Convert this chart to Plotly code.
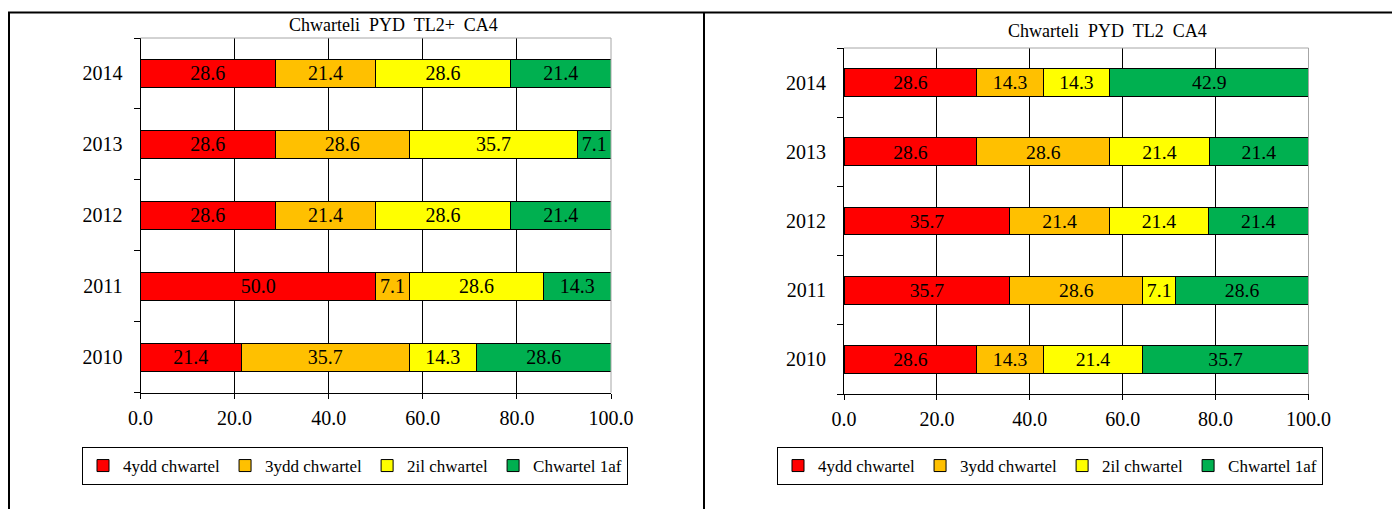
import plotly.graph_objects as go

# Category axis (bottom to top) and series definitions
years = ["2010", "2011", "2012", "2013", "2014"]
series_names = ["4ydd chwartel", "3ydd chwartel", "2il chwartel", "Chwartel 1af"]
series_colors = ["#FF0000", "#FFC000", "#FFFF00", "#00B050"]

# Chwarteli PYD TL2+ CA4 (percent per year, 2010..2014)
tl2plus_q4 = [21.4, 50.0, 28.6, 28.6, 28.6]
tl2plus_q3 = [35.7, 7.1, 21.4, 28.6, 21.4]
tl2plus_q2 = [14.3, 28.6, 28.6, 35.7, 28.6]
tl2plus_q1 = [28.6, 14.3, 21.4, 7.1, 21.4]

# Chwarteli PYD TL2 CA4 (percent per year, 2010..2014)
tl2_q4 = [28.6, 35.7, 35.7, 28.6, 28.6]
tl2_q3 = [14.3, 28.6, 21.4, 28.6, 14.3]
tl2_q2 = [21.4, 7.1, 21.4, 21.4, 14.3]
tl2_q1 = [35.7, 28.6, 21.4, 21.4, 42.9]

x_ticks = [0, 20, 40, 60, 80, 100]

W, H = 1392, 509
FONT = "Liberation Serif"

fig = go.Figure()

panels = [
    ("x", "y", "legend", [tl2plus_q4, tl2plus_q3, tl2plus_q2, tl2plus_q1]),
    ("x2", "y2", "legend2", [tl2_q4, tl2_q3, tl2_q2, tl2_q1]),
]
for xa, ya, lg, series in panels:
    for name, color, vals in zip(series_names, series_colors, series):
        fig.add_trace(go.Bar(
            x=vals, y=years, orientation="h", name=name,
            xaxis=xa, yaxis=ya, legend=lg,
            width=0.4,
            marker=dict(color=color, line=dict(color="black", width=1)),
            text=vals, texttemplate="%{x:.1f}",
            textposition="inside", insidetextanchor="middle", textangle=0,
            insidetextfont=dict(family=FONT, size=20, color="black"),
            hoverinfo="skip",
        ))


def px_x(v):
    return v / W


def px_y(v):
    return 1 - v / H


axis_font = dict(family=FONT, size=20, color="black")

xcommon = dict(
    range=[0, 100], tickvals=x_ticks, tickformat=".1f",
    showgrid=True, gridcolor="black", gridwidth=1,
    ticks="outside", ticklen=5, tickcolor="black",
    showline=True, linecolor="black", linewidth=1,
    zeroline=False, tickfont=axis_font, ticklabelstandoff=2,
    automargin=False, fixedrange=True,
)
ycommon = dict(
    type="category", categoryorder="array", categoryarray=years,
    tickson="boundaries", ticks="outside", ticklen=6, tickcolor="black",
    showline=True, linecolor="black", linewidth=1,
    showgrid=False, zeroline=False, tickfont=axis_font,
    ticklabelstandoff=13, automargin=False, fixedrange=True,
)

legend_common = dict(
    orientation="h", xanchor="left", yanchor="top",
    bordercolor="black", borderwidth=1, bgcolor="white",
    font=dict(family=FONT, size=17, color="black"),
    traceorder="normal",
)

fig.update_layout(
    width=W, height=H,
    margin=dict(l=0, r=0, t=0, b=0, autoexpand=False),
    paper_bgcolor="white", plot_bgcolor="white",
    barmode="stack", bargap=0.6,
    font=dict(family=FONT, color="black"),
    xaxis=dict(domain=[px_x(140.5), px_x(611)], anchor="y", **xcommon),
    yaxis=dict(domain=[px_y(392.7), px_y(38)], anchor="x", **ycommon),
    xaxis2=dict(domain=[px_x(844), px_x(1308.5)], anchor="y2", **xcommon),
    yaxis2=dict(domain=[px_y(394), px_y(48)], anchor="x2", **ycommon),
    legend=dict(x=px_x(82), y=px_y(447), **legend_common),
    legend2=dict(x=px_x(777), y=px_y(447), **legend_common),
    showlegend=True,
)

# Gray top and right edges of each plot area
for xr, yr in [("x domain", "y domain"), ("x2 domain", "y2 domain")]:
    fig.add_shape(type="line", xref=xr, yref=yr, x0=0, x1=1, y0=1, y1=1,
                  line=dict(color="#A6A6A6", width=1))
    fig.add_shape(type="line", xref=xr, yref=yr, x0=1, x1=1, y0=0, y1=1,
                  line=dict(color="#A6A6A6", width=1))

# Outer frame: top rule, left rule and panel divider
frame = dict(color="black", width=2)
fig.add_shape(type="line", xref="paper", yref="paper",
              x0=px_x(8), x1=1, y0=px_y(12.5), y1=px_y(12.5), line=frame)
fig.add_shape(type="line", xref="paper", yref="paper",
              x0=px_x(9), x1=px_x(9), y0=0, y1=px_y(12.5), line=frame)
fig.add_shape(type="line", xref="paper", yref="paper",
              x0=px_x(704), x1=px_x(704), y0=0, y1=px_y(12.5), line=frame)

# Panel titles
title_font = dict(family=FONT, size=18, color="black")
fig.add_annotation(text="Chwarteli  PYD  TL2+  CA4", xref="paper", yref="paper",
                   x=px_x(393), y=px_y(25), xanchor="center", yanchor="middle",
                   showarrow=False, font=title_font)
fig.add_annotation(text="Chwarteli  PYD  TL2  CA4", xref="paper", yref="paper",
                   x=px_x(1107), y=px_y(31), xanchor="center", yanchor="middle",
                   showarrow=False, font=title_font)

fig.write_html("out.html")
